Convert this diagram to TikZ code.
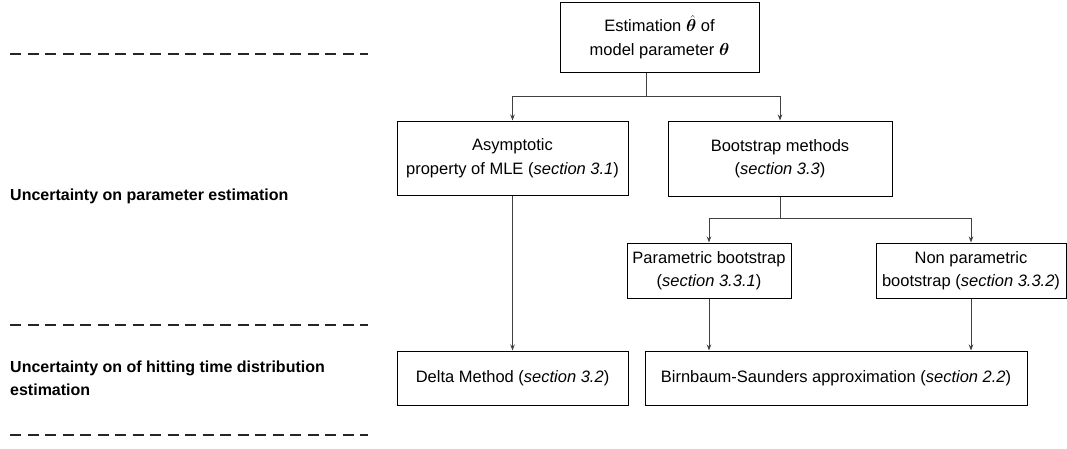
\documentclass[tikz,border=0pt]{standalone}
\usepackage{amsmath,bm}
\usepackage{fontspec}
\setmainfont{Liberation Sans}
\usetikzlibrary{arrows.meta}
\begin{document}
\begin{tikzpicture}[x=1pt,y=-1pt,
  box/.style={draw=black, line width=1pt, align=center, inner sep=0pt,
    font=\fontsize{16.5}{23.5}\selectfont},
  arr/.style={draw=black!75, line width=0.9pt, -{Stealth[length=6pt,width=4.5pt]}},
  conn/.style={draw=black!75, line width=0.9pt},
  sep/.style={draw=black!85, line width=1.4pt, dash pattern=on 11pt off 6.5pt},
  lbl/.style={anchor=west, align=left, inner sep=0pt, font=\fontsize{16}{23}\selectfont\bfseries}]
\useasboundingbox (0,0) rectangle (1067,448);

% separators
\draw[sep] (10,54) -- (368,54);
\draw[sep] (10,325) -- (368,325);
\draw[sep] (10,435) -- (368,435);

% row labels
\node[lbl] (l1) at (10,196) {Uncertainty on parameter estimation};
\node[lbl] (l2) at (10,378.5) {Uncertainty on of hitting time distribution\\estimation};

% boxes
\node[box, minimum width=199pt, minimum height=70pt] (top) at (659.5,37)
  {Estimation $\hat{\bm{\theta}}$ of\\model parameter $\bm{\theta}$};
\node[box, minimum width=231pt, minimum height=74pt] (asym) at (512.5,158)
  {Asymptotic\\property of MLE (\textit{section 3.1})};
\node[box, minimum width=224pt, minimum height=75pt] (boot) at (780,158.5)
  {Bootstrap methods\\(\textit{section 3.3})};
\node[box, minimum width=164pt, minimum height=55pt] (param) at (709,270.5)
  {Parametric bootstrap\\(\textit{section 3.3.1})};
\node[box, minimum width=190pt, minimum height=55pt] (npar) at (971,270.5)
  {Non parametric\\bootstrap (\textit{section 3.3.2})};
\node[box, minimum width=231pt, minimum height=54pt] (delta) at (512.5,378)
  {Delta Method (\textit{section 3.2})};
\node[box, minimum width=382pt, minimum height=54pt] (bs) at (836,378)
  {Birnbaum-Saunders approximation (\textit{section 2.2})};

% connectors
\coordinate (s1) at (646,96);
\coordinate (s2) at (780,218);
\draw[conn] (top.south -| s1) -- (s1);
\draw[arr] (s1) -| (asym.north);
\draw[arr] (s1) -| (boot.north);
\draw[conn] (boot.south) -- (s2);
\draw[arr] (s2) -| (param.north);
\draw[arr] (s2) -| (npar.north);
\draw[arr] (asym.south) -- (delta.north);
\draw[arr] (param.south) -- (param.south |- bs.north);
\draw[arr] (npar.south) -- (npar.south |- bs.north);
\end{tikzpicture}
\end{document}
